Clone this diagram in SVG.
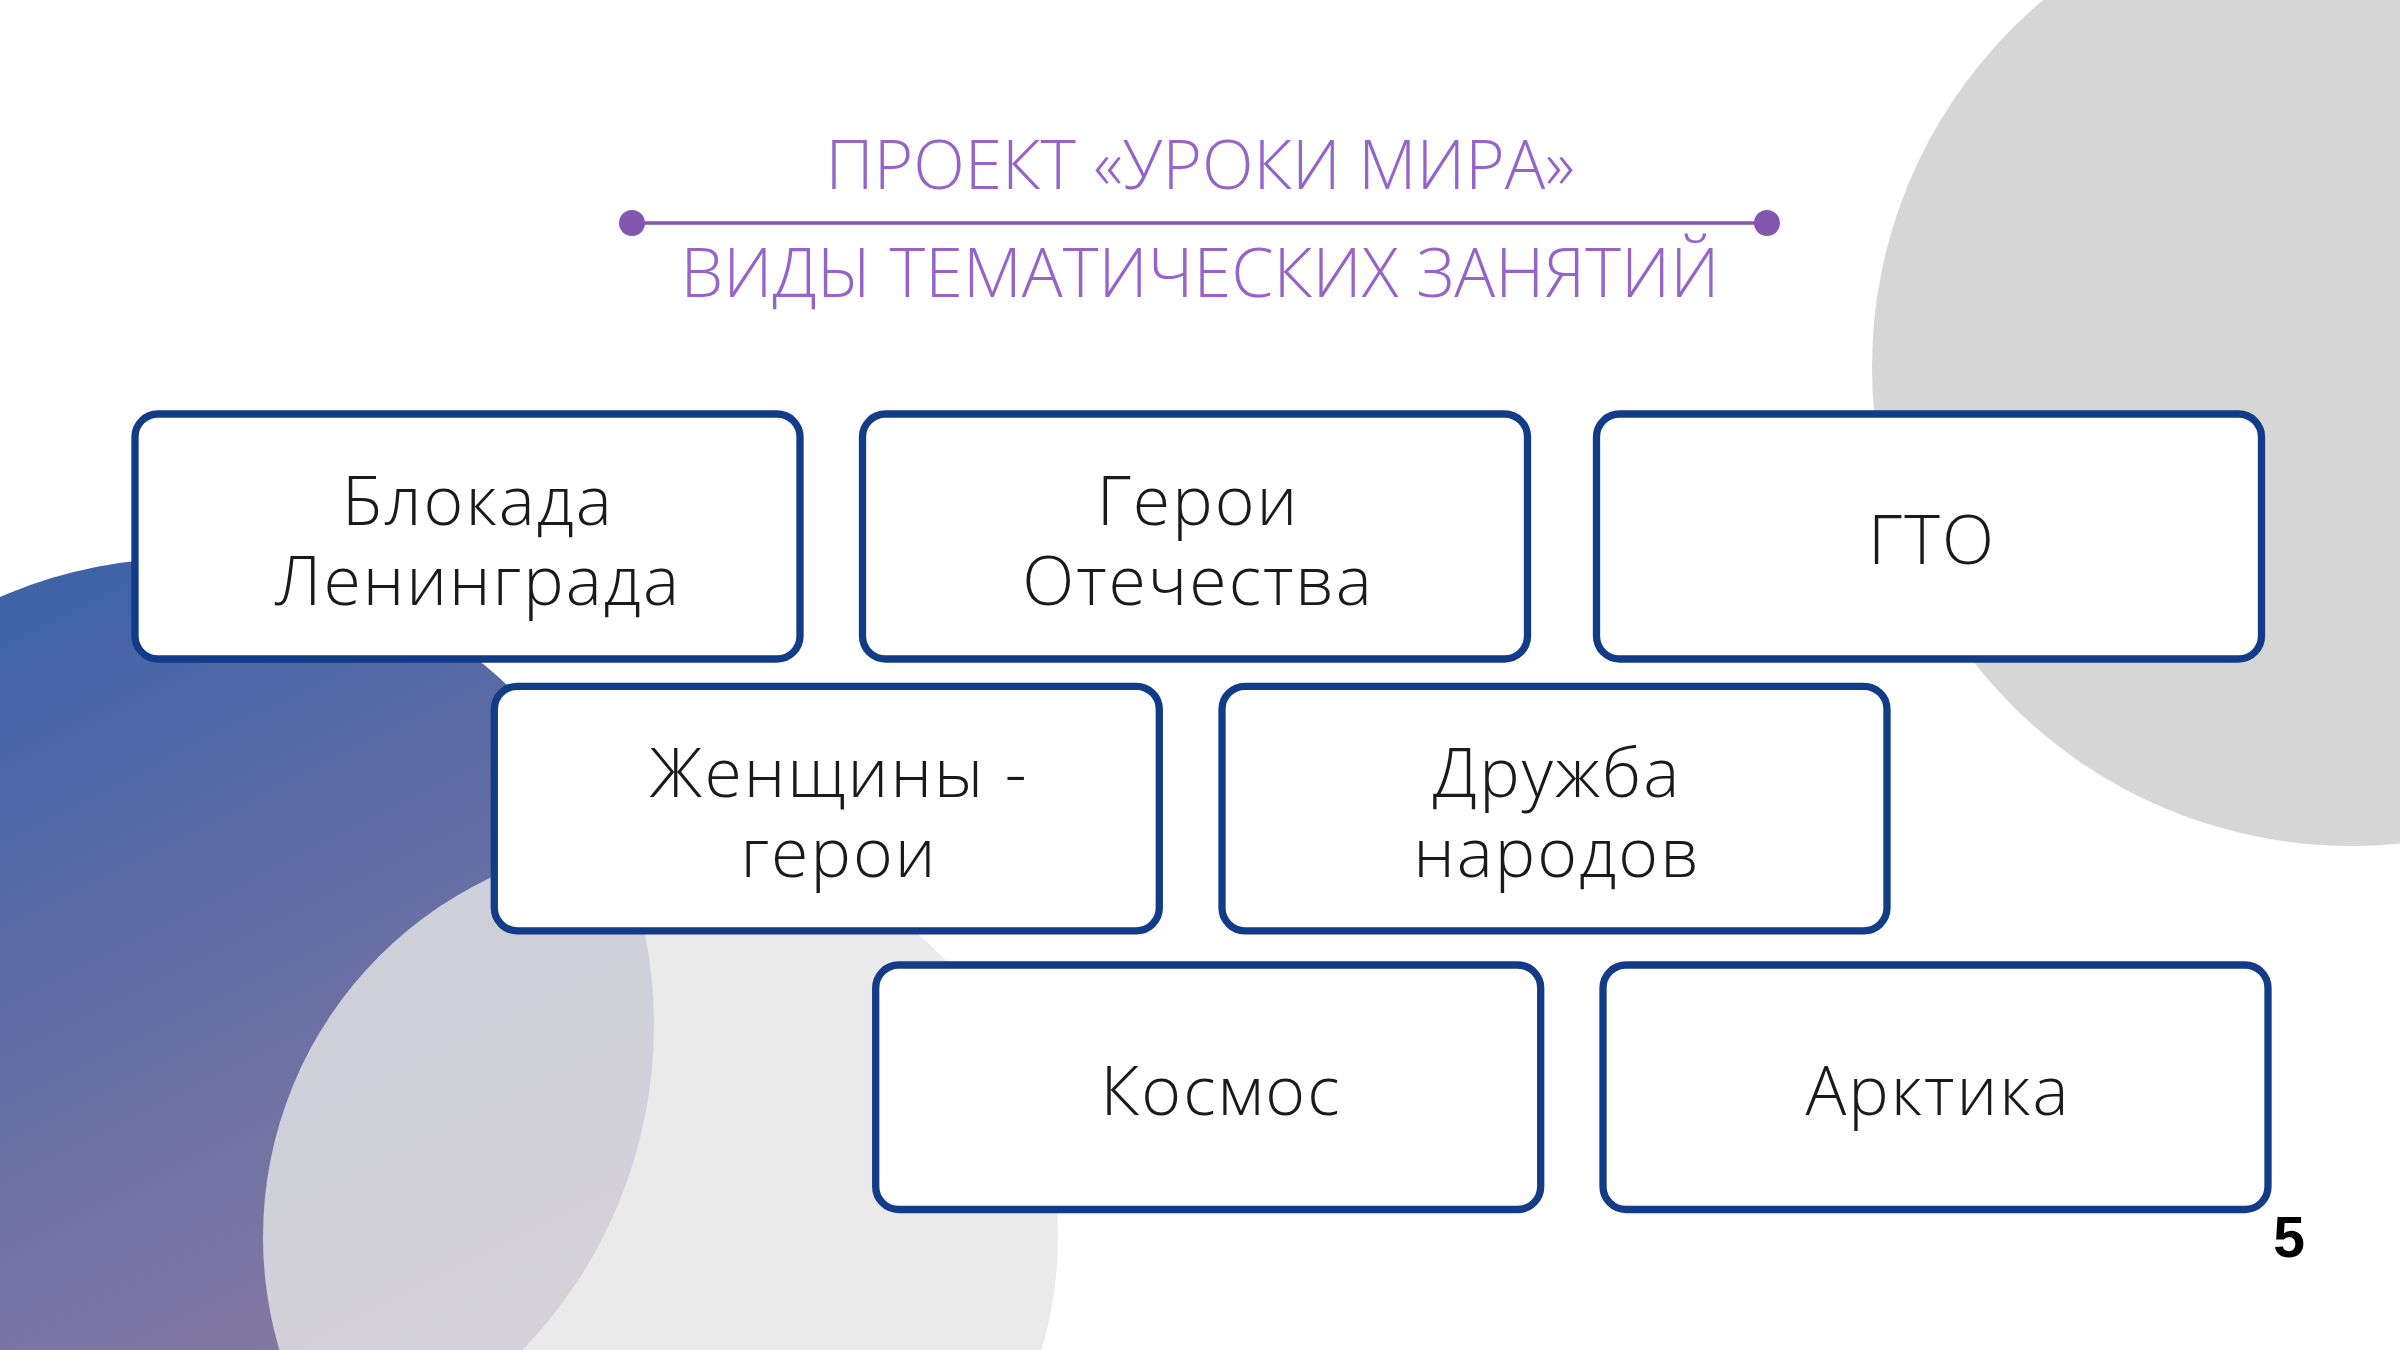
<svg xmlns="http://www.w3.org/2000/svg" width="2400" height="1350" viewBox="0 0 2400 1350">
  <defs>
    <linearGradient id="blueGrad" x1="0.25" y1="0" x2="0.75" y2="1">
      <stop offset="0" stop-color="#3A61A8"/>
      <stop offset="1" stop-color="#947DA1"/>
    </linearGradient>
    <style>
      .box { fill: #ffffff; stroke: #123B88; stroke-width: 7.3; }
      .lbl { font-family: "Open Sans", "Noto Sans", "Liberation Sans", sans-serif; font-weight: 300; font-size: 68px; letter-spacing: 2px; fill: #1a1a1a; text-anchor: middle; }
      .ttl { font-family: "Open Sans", "Noto Sans", "Liberation Sans", sans-serif; font-weight: 300; font-size: 68px; fill: #9664C8; text-anchor: middle; }
      .pn { font-family: "Liberation Sans", "Noto Sans", sans-serif; font-weight: 700; font-size: 57px; fill: #000000; text-anchor: middle; }
    </style>
  </defs>

  <rect x="0" y="0" width="2400" height="1350" fill="#ffffff"/>

  <g id="background">
    <circle cx="2351" cy="367" r="479" fill="#D6D6D6"/>
    <circle cx="187" cy="1025" r="467" fill="url(#blueGrad)"/>
    <circle cx="660.5" cy="1237" r="397.5" fill="#E5E5E5" fill-opacity="0.81"/>
  </g>

  <g id="title">
    <text class="ttl" x="1200" y="189" textLength="749" lengthAdjust="spacingAndGlyphs">ПРОЕКТ «УРОКИ МИРА»</text>
    <line x1="632" y1="223" x2="1767" y2="223" stroke="#8255AE" stroke-width="3.5"/>
    <circle cx="632" cy="223" r="13" fill="#8255AE"/>
    <circle cx="1767" cy="223" r="13" fill="#8255AE"/>
    <text class="ttl" x="1200" y="297" textLength="1039" lengthAdjust="spacingAndGlyphs">ВИДЫ ТЕМАТИЧЕСКИХ ЗАНЯТИЙ</text>
  </g>

  <g id="connectors"></g>

  <g id="node-blokada">
    <rect class="box" x="135" y="414" width="665" height="245" rx="23"/>
    <text class="lbl"><tspan x="478" y="525">Блокада</tspan><tspan x="478" y="605">Ленинграда</tspan></text>
  </g>

  <g id="node-geroi-otechestva">
    <rect class="box" x="862.5" y="414" width="665" height="245" rx="23"/>
    <text class="lbl"><tspan x="1198" y="525">Герои</tspan><tspan x="1198" y="605">Отечества</tspan></text>
  </g>

  <g id="node-gto">
    <rect class="box" x="1596.5" y="414" width="665" height="245" rx="23"/>
    <text class="lbl" x="1932" y="564">ГТО</text>
  </g>

  <g id="node-zhenshchiny">
    <rect class="box" x="494.3" y="686.3" width="665" height="244.5" rx="23"/>
    <text class="lbl"><tspan x="839" y="797">Женщины -</tspan><tspan x="839" y="877">герои</tspan></text>
  </g>

  <g id="node-druzhba">
    <rect class="box" x="1222" y="686.3" width="665" height="244.5" rx="23"/>
    <text class="lbl"><tspan x="1557" y="797">Дружба</tspan><tspan x="1557" y="877">народов</tspan></text>
  </g>

  <g id="node-kosmos">
    <rect class="box" x="875.7" y="965" width="665" height="244.5" rx="23"/>
    <text class="lbl" x="1221" y="1115">Космос</text>
  </g>

  <g id="node-arktika">
    <rect class="box" x="1603" y="965" width="665" height="244.5" rx="23"/>
    <text class="lbl" x="1938" y="1115">Арктика</text>
  </g>

  <g id="page-number">
    <text class="pn" x="2289" y="1257">5</text>
  </g>
</svg>
